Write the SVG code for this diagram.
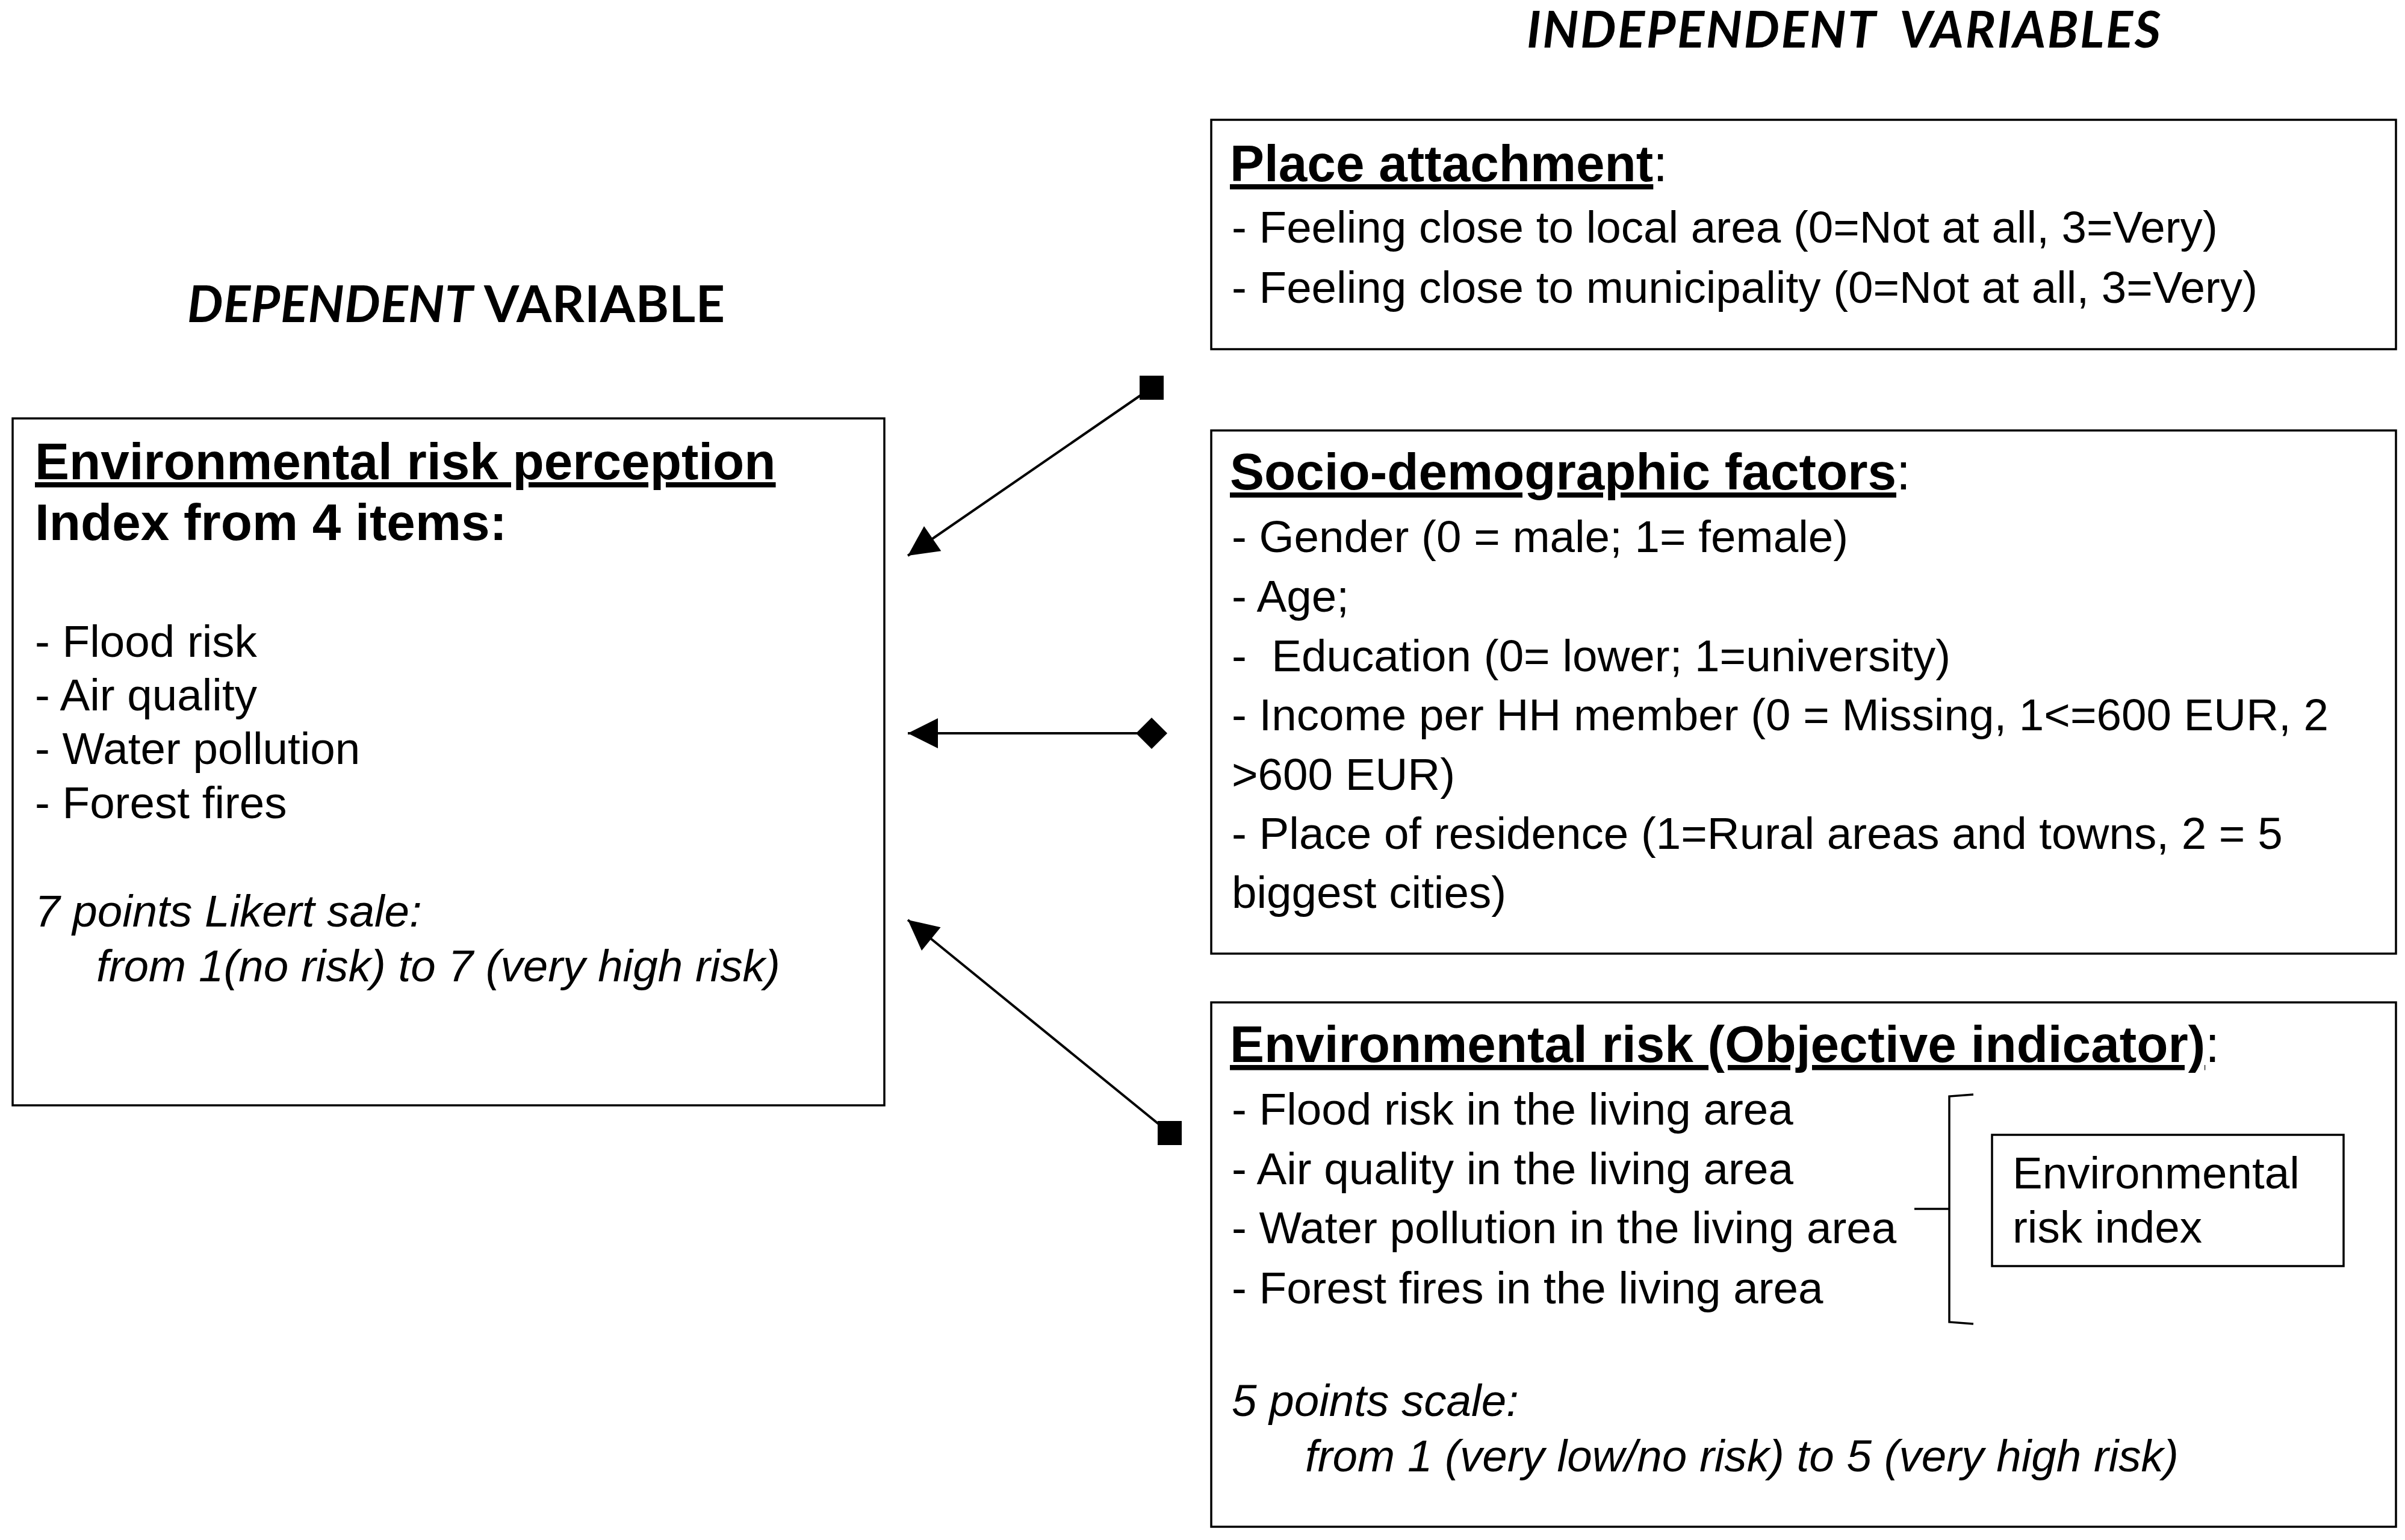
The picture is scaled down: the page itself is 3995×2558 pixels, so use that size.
<svg xmlns="http://www.w3.org/2000/svg" width="3995" height="2558" viewBox="0 0 3995 2558">
<style>
  .box { fill: #ffffff; stroke: #000000; stroke-width: 3.5; }
  .t { font-family: "Liberation Sans", Arial, sans-serif; font-size: 74.6px; fill: #000000; }
  .it { font-style: italic; }
  .h { font-family: "Liberation Sans", Arial, sans-serif; font-size: 85.5px; fill: #000000; }
  .hb { font-weight: bold; text-decoration: underline; }
  .cap { font-family: Lato, "Open Sans", sans-serif; font-size: 84px; font-weight: bold; fill: #000000; }
  .conn { stroke: #000000; stroke-width: 4; fill: none; }
  .brace { stroke: #000000; stroke-width: 3.5; fill: none; stroke-linejoin: miter; }
</style>
<defs>
  <marker id="arrow" markerUnits="userSpaceOnUse" markerWidth="70" markerHeight="70" viewBox="-60 -35 70 70" refX="0" refY="0" orient="auto">
    <path d="M0,0 L-50,-25 L-50,25 Z" fill="#000000"/>
  </marker>
  <marker id="square" markerUnits="userSpaceOnUse" markerWidth="50" markerHeight="50" viewBox="-25 -25 50 50" refX="0" refY="0" orient="0">
    <rect x="-20" y="-20" width="40" height="40" fill="#000000"/>
  </marker>
  <marker id="diamond" markerUnits="userSpaceOnUse" markerWidth="60" markerHeight="60" viewBox="-30 -30 60 60" refX="0" refY="0" orient="0">
    <path d="M0,-26 L26,0 L0,26 L-26,0 Z" fill="#000000"/>
  </marker>
</defs>
<rect x="0" y="0" width="3995" height="2558" fill="#ffffff"/>

<g id="heading-independent">
  <text class="cap" x="2536" y="79" font-style="italic" xml:space="preserve" textLength="1053">INDEPENDENT  VARIABLES</text>
</g>

<g id="heading-dependent">
  <text class="cap" x="311" y="535" textLength="893"><tspan font-style="italic">DEPENDENT</tspan> VARIABLE</text>
</g>

<g id="node-dependent">
  <rect class="box" x="21" y="695" width="1448" height="1141"/>
  <text class="h" x="58" y="796"><tspan class="hb">Environmental risk perception</tspan></text>
  <text class="h" x="58" y="897" font-weight="bold">Index from 4 items:</text>
  <text class="t" x="58" y="1091">- Flood risk</text>
  <text class="t" x="58" y="1180">- Air quality</text>
  <text class="t" x="58" y="1269">- Water pollution</text>
  <text class="t" x="58" y="1359">- Forest fires</text>
  <text class="t it" x="58" y="1539">7 points Likert sale:</text>
  <text class="t it" x="160" y="1630">from 1(no risk) to 7 (very high risk)</text>
</g>

<g id="node-place-attachment">
  <rect class="box" x="2012" y="199" width="1968" height="381"/>
  <text class="h" x="2043" y="301"><tspan class="hb">Place attachment</tspan>:</text>
  <text class="t" x="2046" y="403">- Feeling close to local area (0=Not at all, 3=Very)</text>
  <text class="t" x="2046" y="503">- Feeling close to municipality (0=Not at all, 3=Very)</text>
</g>

<g id="node-socio-demographic">
  <rect class="box" x="2012" y="715" width="1968" height="869"/>
  <text class="h" x="2043" y="813"><tspan class="hb">Socio-demographic factors</tspan>:</text>
  <text class="t" x="2046" y="917">- Gender (0 = male; 1= female)</text>
  <text class="t" x="2046" y="1016">- Age;</text>
  <text class="t" x="2046" y="1115" xml:space="preserve">-  Education (0= lower; 1=university)</text>
  <text class="t" x="2046" y="1213">- Income per HH member (0 = Missing, 1&lt;=600 EUR, 2</text>
  <text class="t" x="2046" y="1312">&gt;600 EUR)</text>
  <text class="t" x="2046" y="1410">- Place of residence (1=Rural areas and towns, 2 = 5</text>
  <text class="t" x="2046" y="1508">biggest cities)</text>
</g>

<g id="node-environmental-risk">
  <rect class="box" x="2012" y="1665" width="1968" height="871"/>
  <text class="h" x="2043" y="1764"><tspan class="hb">Environmental risk (Objective indicator)</tspan>:</text>
  <text class="t" x="2046" y="1868">- Flood risk in the living area</text>
  <text class="t" x="2046" y="1967">- Air quality in the living area</text>
  <text class="t" x="2046" y="2065">- Water pollution in the living area</text>
  <text class="t" x="2046" y="2165">- Forest fires in the living area</text>
  <path class="brace" d="M3278,1818 L3238,1821 L3238,2008 L3180,2008 M3238,2008 L3238,2196 L3278,2199"/>
  <text class="t it" x="2046" y="2352">5 points scale:</text>
  <text class="t it" x="2168" y="2444">from 1 (very low/no risk) to 5 (very high risk)</text>
</g>

<g id="node-environmental-risk-index">
  <rect class="box" x="3309" y="1885" width="584" height="218"/>
  <text class="t" x="3343" y="1974">Environmental</text>
  <text class="t" x="3343" y="2064">risk index</text>
</g>

<g id="connectors">
  <line class="conn" x1="1913" y1="644" x2="1508" y2="923" marker-start="url(#square)" marker-end="url(#arrow)"/>
  <line class="conn" x1="1913" y1="1218" x2="1508" y2="1218" marker-start="url(#diamond)" marker-end="url(#arrow)"/>
  <line class="conn" x1="1943" y1="1882" x2="1508" y2="1528" marker-start="url(#square)" marker-end="url(#arrow)"/>
</g>
</svg>
